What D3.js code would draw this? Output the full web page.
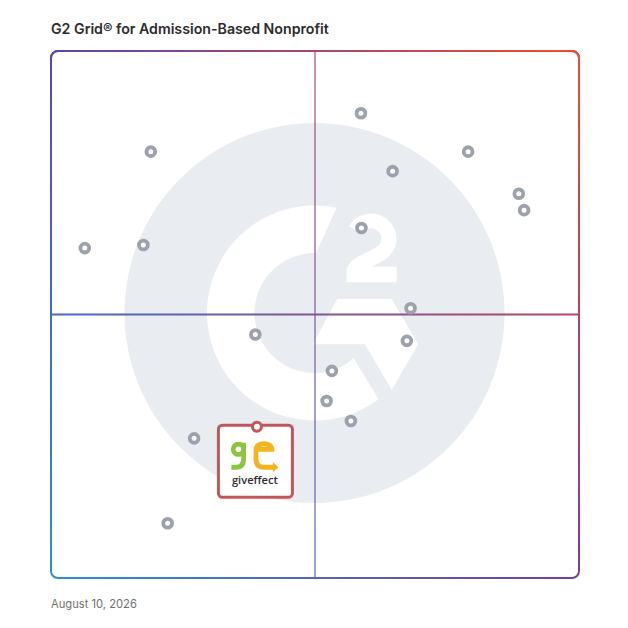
<!DOCTYPE html>
<html>
<head>
<meta charset="utf-8">
<script src="https://cdn.jsdelivr.net/npm/d3@7"></script>
<style>
  html, body { margin: 0; padding: 0; background: #ffffff; }
  svg { display: block; }
</style>
</head>
<body>
<div id="chart"></div>
<script>
// ---------------- data ----------------
const chartTitle = "G2 Grid® for Admission-Based Nonprofit";
const chartDate = "August 10, 2026";
// vendor positions (0-100 on each axis: satisfaction → x, market presence → y)
const vendorX = [18.9, 58.7, 79.0, 64.7, 88.6, 89.6, 6.4, 17.5, 58.8, 68.1, 67.4, 38.7, 53.2, 52.2, 56.8, 27.1, 22.1];
const vendorY = [80.9, 88.2, 80.9, 77.2, 72.9, 69.8, 62.6, 63.2, 66.4, 51.2, 45.0, 46.2, 39.3, 33.6, 29.8, 26.5, 10.4];
const featuredName = "giveffect";
const featuredX = [39.0];
const featuredY = [28.7];
const cornerColors = ["#5b46b1", "#f24b2c", "#2a8fd8", "#7a3c9c"]; // TL, TR, BL, BR

// ---------------- layout ----------------
const W = 628, H = 628;
const frame = { left: 51, top: 51, right: 579, bottom: 578 };
const x = d3.scaleLinear().domain([0, 100]).range([frame.left, frame.right]);
const y = d3.scaleLinear().domain([0, 100]).range([frame.bottom, frame.top]);

const svg = d3.select("#chart").append("svg")
  .attr("width", W).attr("height", H)
  .attr("viewBox", `0 0 ${W} ${H}`);
const defs = svg.append("defs");

function grad(id, x1, y1, x2, y2, stops) {
  const g = defs.append("linearGradient").attr("id", id)
    .attr("gradientUnits", "userSpaceOnUse")
    .attr("x1", x1).attr("y1", y1).attr("x2", x2).attr("y2", y2);
  stops.forEach(([o, c, op]) => g.append("stop").attr("offset", o).attr("stop-color", c).attr("stop-opacity", op == null ? 1 : op));
  return `url(#${id})`;
}
const mix = (a, b) => d3.interpolateRgb(a, b)(0.5);
const [cTL, cTR, cBL, cBR] = cornerColors;

// ---------------- watermark ----------------
const cx = x(50) - 0.5, cy = y(50) - 1.5;
const wm = svg.append("g").attr("transform", `translate(${cx},${cy})`);
wm.append("circle").attr("r", 190).attr("fill", "#e9ecf0");
const R = 107.5, r = 60;
const pt = (rad, deg) => [rad * Math.cos(deg * Math.PI / 180), rad * Math.sin(deg * Math.PI / 180)];
const oT = pt(R, -78.1), iT = pt(r, -88.5), oB = pt(R, 53.4), iB = pt(r, 49.1);
wm.append("path").attr("fill", "#ffffff")
  .attr("d", `M${oT} A${R},${R} 0 1 0 ${oB} L${iB} A${r},${r} 0 1 1 ${iT} Z`);
const chevron = [[22.8, -14], [77.2, -14], [103.8, 31.3], [77.2, 77], [50.5, 31.3], [-1.8, 31.3]];
wm.append("path").attr("fill", "#ffffff").attr("d", "M" + chevron.join("L") + "Z");
// the "2"
wm.append("path").attr("fill", "none").attr("stroke", "#ffffff").attr("stroke-width", 15)
  .attr("d", "M40.9,-83 A18,18 0 0 1 74.5,-74 C74.5,-63 65.5,-59 55.5,-54 C45.5,-49 39.5,-47 39.5,-40");
wm.append("rect").attr("fill", "#ffffff").attr("x", 32.2).attr("y", -46.3).attr("width", 50).attr("height", 15.6);

// ---------------- quadrant lines ----------------
svg.append("line")
  .attr("x1", x(0)).attr("x2", x(100)).attr("y1", y(50)).attr("y2", y(50))
  .attr("stroke", grad("hLine", x(0), 0, x(100), 0, [[0, mix(cTL, cBL)], [1, mix(cTR, cBR)]]))
  .attr("stroke-width", 2);
svg.append("line")
  .attr("x1", x(50)).attr("x2", x(50)).attr("y1", y(100)).attr("y2", y(0))
  .attr("stroke", grad("vLine", 0, y(100), 0, y(0), [[0, mix(cTL, cTR)], [1, mix(cBL, cBR)]]))
  .attr("stroke-width", 2).attr("stroke-opacity", 0.6);

// ---------------- frame (bilinear corner gradient) ----------------
const fw = frame.right - frame.left, fh = frame.bottom - frame.top;
const mask = defs.append("mask").attr("id", "fadeMask").attr("maskUnits", "userSpaceOnUse")
  .attr("x", 0).attr("y", 0).attr("width", W).attr("height", H);
mask.append("rect").attr("x", 0).attr("y", 0).attr("width", W).attr("height", H)
  .attr("fill", grad("maskGrad", 0, frame.top, 0, frame.bottom, [[0, "#ffffff"], [1, "#000000"]]));
svg.append("rect")
  .attr("x", frame.left).attr("y", frame.top).attr("width", fw).attr("height", fh)
  .attr("rx", 7).attr("fill", "none").attr("stroke-width", 2)
  .attr("stroke", grad("botGrad", frame.left, 0, frame.right, 0, [[0, cBL], [1, cBR]]));
svg.append("rect")
  .attr("x", frame.left).attr("y", frame.top).attr("width", fw).attr("height", fh)
  .attr("rx", 7).attr("fill", "none").attr("stroke-width", 2)
  .attr("stroke", grad("topGrad", frame.left, 0, frame.right, 0, [[0, cTL], [1, cTR]]))
  .attr("mask", "url(#fadeMask)");

// ---------------- vendor points ----------------
const vendors = vendorX.map((v, i) => ({ x: v, y: vendorY[i] }));
svg.append("g").selectAll("circle").data(vendors).join("circle")
  .attr("cx", d => x(d.x)).attr("cy", d => y(d.y))
  .attr("r", 4.4).attr("fill", "#ffffff")
  .attr("stroke", "#9ca1ad").attr("stroke-width", 3.8);

// ---------------- featured vendor ----------------
const feat = featuredX.map((v, i) => ({ x: v, y: featuredY[i], name: featuredName }));
const fg = svg.append("g").selectAll("g").data(feat).join("g")
  .attr("transform", d => `translate(${x(d.x)},${y(d.y)})`);
fg.append("rect").attr("x", -38.5).attr("y", -1.5).attr("width", 74).attr("height", 72)
  .attr("rx", 4).attr("fill", "#ffffff").attr("stroke", "#c1575a").attr("stroke-width", 3);
// logo "ge"
const green = "#8cc63f", yellow = "#f5b21a";
const logo = fg.append("g").attr("fill", "none").attr("stroke-width", 4.8);
logo.append("circle").attr("cx", -18.5).attr("cy", 22.5).attr("r", 5.2).attr("stroke", green);
logo.append("path").attr("stroke", green)
  .attr("d", "M-13.3,16 V32 Q-13.3,40.5 -21,40.5 H-25.5");
logo.append("path").attr("stroke", yellow)
  .attr("d", "M-1,22.5 H15 A8,5.6 0 0 0 -1,22.5 V32 Q-1,40.5 7,40.5 H17");
fg.append("path").attr("fill", yellow).attr("d", "M16,35.5 L21.5,40.5 L16,45.5 Z");
fg.append("text").attr("class", "ftext").attr("x", -2).attr("y", 57)
  .attr("text-anchor", "middle").attr("font-family", "'Open Sans', sans-serif")
  .attr("font-weight", 600).attr("font-size", 12).attr("fill", "#2e2e2e")
  .text(d => d.name);
// pin
fg.append("circle").attr("r", 4.5).attr("fill", "#ffffff")
  .attr("stroke", "#c1575a").attr("stroke-width", 3);

// ---------------- texts ----------------
function fitText(sel, target) {
  const w = sel.node().getComputedTextLength();
  const fs = parseFloat(sel.attr("font-size"));
  if (w > 0) sel.attr("font-size", (fs * target / w).toFixed(2));
}
const title = svg.append("text").attr("x", 51).attr("y", 34)
  .attr("font-family", "Inter, 'Noto Sans', sans-serif").attr("font-weight", 600)
  .attr("font-size", 13).attr("fill", "#2b2b2b").text(chartTitle);
fitText(title, 278);
const date = svg.append("text").attr("x", 51).attr("y", 608)
  .attr("font-family", "Inter, 'Noto Sans', sans-serif").attr("font-weight", 400)
  .attr("font-size", 11.5).attr("fill", "#6f6f6f").text(chartDate);
fitText(date, 86);
fitText(d3.select(".ftext"), 46);
</script>
</body>
</html>
